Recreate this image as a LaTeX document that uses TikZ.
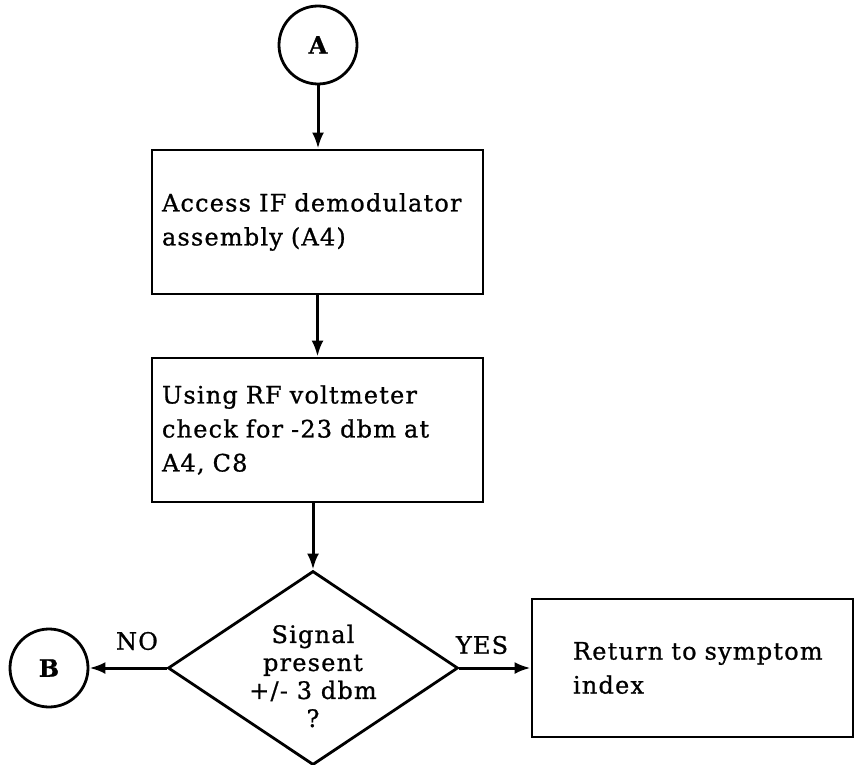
\documentclass[tikz,border=0pt]{standalone}
\usepackage{fontspec}
\setmainfont{DejaVu Serif}[LetterSpace=5,FakeBold=0.9]
\usetikzlibrary{arrows.meta,shapes.geometric}
\begin{document}
\begin{tikzpicture}[x=1pt,y=-1pt,
  font=\fontsize{24}{34}\selectfont,
  conn/.style={circle,draw,line width=2.8pt,minimum size=78pt,inner sep=0pt,font=\fontsize{24}{28}\selectfont\bfseries},
  procbox/.style={rectangle,draw,line width=2.8pt,minimum width=331pt,minimum height=144pt,text width=311pt,inner xsep=10pt,align=left},
  endbox/.style={rectangle,draw,line width=2.8pt,minimum width=321pt,minimum height=138pt,text width=239pt,inner xsep=41pt,align=left},
  decision/.style={diamond,draw,line width=2.8pt,minimum width=290pt,minimum height=194pt,inner sep=0pt},
  arr/.style={line width=3pt,-{Latex[length=16pt,width=12pt]}},
  lbl/.style={inner sep=0pt,align=center}]
\useasboundingbox (0,0) rectangle (856,765);
\node[conn] (A) at (318,45) {A};
\node[procbox] (b1) at (317.5,222) {\mbox{Access IF demodulator}\\\mbox{assembly (A4)}};
\node[procbox] (b2) at (317.5,430) {\mbox{Using RF voltmeter}\\\mbox{check for -23 dbm at}\\\mbox{A4, C8}\\[12pt]};
\node[decision] (d) at (313,668) {};
\node[lbl,font=\fontsize{24}{28}\selectfont] (dt) at (313,676) {Signal\\present\\+/- 3 dbm\\?};
\node[conn] (B) at (49,668) {B};
\node[endbox] (b3) at (692.5,668) {\mbox{Return to symptom}\\index};
\draw[arr] (A.south) -- (A.south |- b1.north);
\draw[arr] (b1.south) -- (b2.north);
\draw[arr] (b2.south -| d.north) -- (d.north);
\draw[arr] (d.west) -- (B.east);
\draw[arr] (d.east) -- (b3.west);
\node[lbl] (no) at (137,641) {NO};
\node[lbl] (yes) at (482,645) {YES};
\end{tikzpicture}
\end{document}
